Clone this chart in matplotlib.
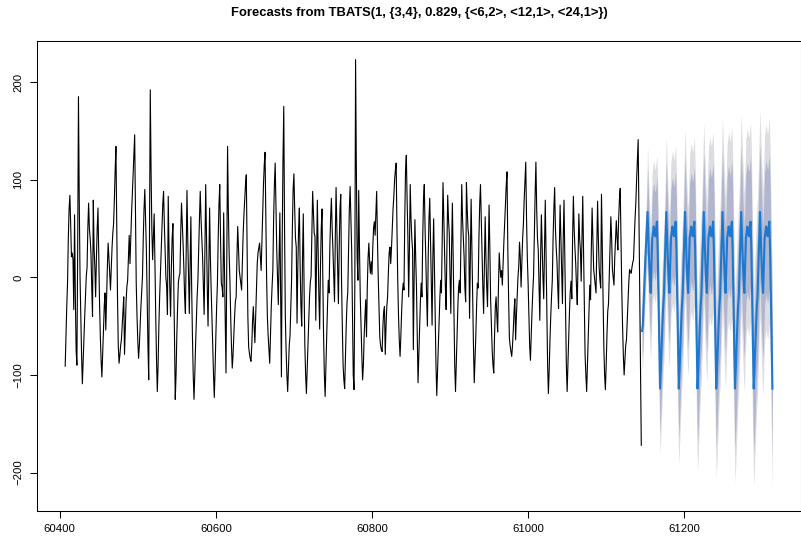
import numpy as np
import matplotlib
matplotlib.use('Agg')
import matplotlib.pyplot as plt

# observed series, one row per 24 steps, starting at t = 60407
start = 60407
hist = [
    -91, -60, -30, -6, 40, 70, 84, 55, 21, 25, 18, -33, 64, -20, -75, -90, 30, 185, 80, 1, -40, -80, -109, -85,
    -60, -40, -20, 1, 10, 50, 76, 50, 40, 25, -10, -40, 79, 30, 10, -20, 20, 50, 71, 20, -26, -60, -85, -102,
    -80, -55, -30, -16, -54, -20, 10, 35, 20, 5, -13, 10, 30, 45, 55, 80, 110, 134, 60, -20, -70, -88, -80, -70,
    -64, -50, -35, -20, -79, -50, -25, -10, -3, 20, 43, 14, 40, 65, 86, 105, 125, 146, 70, -6, -40, -65, -83, -70,
    -50, -30, -15, 1, 40, 70, 90, 60, 28, -20, -70, -105, 40, 192, 110, 50, 18, 40, 65, 10, -40, -85, -117, -90,
    -50, -20, 4, 30, 55, 75, 88, 55, 28, 0, -10, -38, 83, 30, -10, -40, 10, 40, 55, 0, -60, -125, -100, -60,
    -30, -5, 1, 4, 45, 76, 55, 35, 10, -20, -37, 30, 89, 40, 0, -37, 10, 62, -10, -60, -100, -125, -100, -70,
    -45, -20, -3, 30, 60, 88, 60, 40, 21, -10, -38, 30, 95, 40, -10, -50, 10, 71, 20, -13, -40, -70, -100, -123,
    -95, -60, -30, -6, 40, 75, 95, 40, -6, -10, -20, 66, 10, -50, -98, 20, 134, 70, 25, -3, -40, -70, -93, -80,
    -60, -40, -25, -20, 20, 52, 30, 7, 0, -8, -13, 15, 45, 65, 80, 95, 105, 30, -40, -71, -78, -83, -86, -70,
    -45, -30, -50, -67, -40, -15, 14, 25, 30, 35, 20, 7, 35, 65, 95, 115, 128, 60, 0, -40, -60, -75, -88, -60,
    -30, -10, 7, 60, 95, 117, 70, 28, 0, -28, 20, 66, -20, -102, 40, 120, 175, 50, -40, -75, -100, -117, -95, -70,
    -60, -30, -3, 50, 90, 106, 70, 40, 31, -47, 10, 50, 71, 10, -30, -50, 20, 65, -10, -70, -100, -119, -95, -70,
    -45, -20, -5, 1, 45, 88, 65, 45, 42, -44, 20, 79, 30, -20, -53, 10, 50, 70, 0, -60, -100, -122, -90, -60,
    -30, -3, -16, 30, 60, 81, 50, 28, 0, -25, 40, 92, 50, 10, -27, 30, 70, 85, -3, -50, -90, -105, -114, -80,
    -50, -26, -15, 30, 70, 93, 60, 28, -40, -100, -115, -10, 223, 110, 20, -3, 89, 30, -20, -50, -80, -105, -90, -60,
    -40, -23, -61, -10, 20, 35, 15, 4, 16, 3, 30, 50, 57, 43, 65, 88, 40, 0, -30, -61, -70, -74, -76, -50,
    -35, -30, -79, -50, -30, -20, 5, 25, 31, 14, 30, 50, 70, 83, 100, 110, 117, 50, -3, -40, -65, -81, -60, -35,
    -15, -6, -13, 60, 110, 125, 80, 42, -20, 30, 95, 60, 40, 28, -74, 0, 59, 20, -10, -60, -108, -80, -50, -25,
    -6, -20, 40, 80, 95, 50, 18, -20, -50, 20, 60, 81, 38, -10, -49, 20, 60, 10, -40, -90, -121, -95, -70, -45,
    -20, -3, -16, 40, 97, 60, 18, -10, -33, 30, 84, 60, 45, 0, -37, 30, 76, 20, -40, -90, -117, -90, -60, -30,
    -10, -3, -16, 40, 95, 60, 40, 21, -10, -25, 97, 70, 50, 42, -42, 20, 80, 30, -20, -70, -108, -85, -60, -30,
    -6, -11, 40, 75, 95, 60, 25, -10, -37, 10, 62, 20, -10, -30, 20, 74, 30, -23, -50, -75, -90, -98, -60, -30,
    -20, -40, -56, -10, 25, 10, 0, 7, -8, 15, 37, 55, 75, 95, 108, 30, -20, -62, -70, -76, -81, -70, -54, -35,
    -22, -64, -40, -20, 0, 11, 36, 20, -10, 15, 40, 55, 80, 100, 118, 60, 20, -6, -40, -70, -85, -60, -35, -15,
    2, 45, 85, 118, 70, 40, 28, -10, -44, 20, 64, 30, 0, -22, 30, 79, 20, -40, -90, -119, -95, -65, -40, -20,
    -3, 40, 70, 92, 50, 30, 16, -10, -32, 30, 74, 40, 10, -27, 40, 79, 20, -40, -90, -117, -90, -60, -35, -15,
    -4, -22, 40, 83, 50, 30, 14, -10, -28, 20, 65, 40, 28, -4, 40, 83, 30, -30, -80, -100, -117, -90, -60, -35,
    -8, -23, 30, 71, 40, 8, 0, -8, -16, 30, 78, 40, 10, -3, -11, 85, 30, -20, -70, -100, -115, -90, -60, -35,
    -27, 4, 35, 62, 40, 8, 0, -8, 20, 40, 58, 40, 28, 60, 80, 91, 40, -13, -50, -80, -100, -85, -70, -64,
    -45, -27, -5, 8, 6, 4, 10, 15, 18, 40, 60, 76, 100, 120, 141, 60, -20, -100, -172,
]

# point forecast (168 steps)
fc_mean = [
    -55, -48, -25, -5, 15, 32, 50,
    67, 42, 18, -2, -16, 14, 40, 46, 52, 45, 42, 50, 57, 28, -20, -70, -114, -95, -72, -50, -30, -18, 10, 40,
    67, 42, 18, -2, -16, 14, 40, 46, 52, 45, 42, 50, 57, 28, -20, -70, -114, -95, -72, -50, -30, -18, 10, 40,
    67, 42, 18, -2, -16, 14, 40, 46, 52, 45, 42, 50, 57, 28, -20, -70, -114, -95, -72, -50, -30, -18, 10, 40,
    67, 42, 18, -2, -16, 14, 40, 46, 52, 45, 42, 50, 57, 28, -20, -70, -114, -95, -72, -50, -30, -18, 10, 40,
    67, 42, 18, -2, -16, 14, 40, 46, 52, 45, 42, 50, 57, 28, -20, -70, -114, -95, -72, -50, -30, -18, 10, 40,
    67, 42, 18, -2, -16, 14, 40, 46, 52, 45, 42, 50, 57, 28, -20, -70, -114, -95, -72, -50, -30, -18, 10, 40,
    67, 42, 18, -2, -16, 14, 40, 46, 52, 45, 42, 50, 57, 28, -20, -70, -114,
]

# half-widths of the prediction intervals, per block of the forecast
block_len = [7, 24, 24, 24, 24, 24, 24, 17]
half95 = [40, 68, 78, 86, 92, 97, 101, 105]
half80 = [26, 45, 51, 56, 60, 63, 66, 68]

title = "Forecasts from TBATS(1, {3,4}, 0.829, {<6,2>, <12,1>, <24,1>})"

plt.rcParams['font.family'] = ['Liberation Sans', 'DejaVu Sans']

W, H = 801, 544
fig = plt.figure(figsize=(W / 100, H / 100), dpi=100)
left, right, top, bottom = 36.7, 801.4, 41.2, 510.5
ax = fig.add_axes([left / W, 1 - bottom / H, (right - left) / W, (bottom - top) / H])

t_hist = start + np.arange(len(hist))
t_fc = t_hist[-1] + 1 + np.arange(len(fc_mean))
fc = np.array(fc_mean, dtype=float)
h95 = np.repeat(half95, block_len)
h80 = np.repeat(half80, block_len)

ax.fill_between(t_fc, fc - h95, fc + h95, color='#DCDCE1', lw=0)
ax.fill_between(t_fc, fc - h80, fc + h80, color='#B1B5CD', lw=0)
ax.plot(t_hist, hist, color='black', lw=0.8)
ax.plot(t_fc, fc, color='#1C78D0', lw=1.5)

ax.set_xlim(60370.5, 61350.1)
ax.set_ylim(-238.8, 241.8)
ax.set_xticks([60400, 60600, 60800, 61000, 61200])
ax.set_yticks([-200, -100, 0, 100, 200])
ax.tick_params(direction='out', length=4.8, width=0.75, labelsize=8.2, colors='black')
ax.tick_params(axis='x', pad=5)
ax.tick_params(axis='y', pad=5)
for lab in ax.get_yticklabels():
    lab.set_rotation(90)
    lab.set_va('center')
for s in ax.spines.values():
    s.set_linewidth(0.75)

fig.text((left + right) / 2 / W, 1 - 13 / H, title, ha='center', va='center',
         fontsize=9.4, fontweight='bold')

fig.savefig('out.png', dpi=100)
